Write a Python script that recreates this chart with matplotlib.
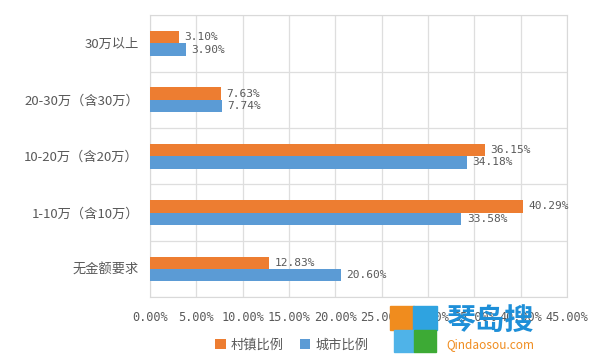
import matplotlib
matplotlib.use("Agg")
import matplotlib.pyplot as plt
import numpy as np
from matplotlib.patches import Rectangle

plt.rcParams['font.family'] = ['Noto Sans CJK SC', 'DejaVu Sans']

categories = ["30万以上", "20-30万（含30万）", "10-20万（含20万）", "1-10万（含10万）", "无金额要求"]
village = [3.10, 7.63, 36.15, 40.29, 12.83]
city = [3.90, 7.74, 34.18, 33.58, 20.60]
series_names = ["村镇比例", "城市比例"]
xticks = [0, 5, 10, 15, 20, 25, 30, 35, 40, 45]

c_orange = "#ED7D31"
c_blue = "#5B9BD5"
c_text = "#595959"

fig = plt.figure(figsize=(6, 3.61), dpi=100)
ax = fig.add_axes([0.25, 0.177, 0.695, 0.781])

n = len(categories)
y = np.arange(n)
h = 0.22
ax.barh(y - h/2, village, height=h, color=c_orange, label=series_names[0], zorder=3)
ax.barh(y + h/2, city, height=h, color=c_blue, label=series_names[1], zorder=3)

for i in range(n):
    ax.text(village[i] + 0.6, y[i] - h/2, f"{village[i]:.2f}%", va='center', ha='left',
            fontsize=8, color=c_text, family='DejaVu Sans Mono', zorder=4)
    ax.text(city[i] + 0.6, y[i] + h/2, f"{city[i]:.2f}%", va='center', ha='left',
            fontsize=8, color=c_text, family='DejaVu Sans Mono', zorder=4)

ax.set_xlim(0, 45)
ax.set_ylim(n - 0.5, -0.5)
ax.set_xticks(xticks)
ax.set_xticklabels([f"{v:.2f}%" for v in xticks], family='DejaVu Sans Mono', fontsize=8.6, color=c_text)
ax.set_yticks(y)
ax.set_yticklabels(categories, fontsize=9.5, color=c_text)
ax.set_yticks(np.arange(n + 1) - 0.5, minor=True)
ax.grid(True, axis='x', color='#DEDEDE', lw=0.9, zorder=0)
ax.grid(True, axis='y', which='minor', color='#DEDEDE', lw=0.9, zorder=0)
ax.tick_params(axis='both', which='both', length=0)
ax.tick_params(axis='y', pad=8)
ax.tick_params(axis='x', pad=10)
for s in ax.spines.values():
    s.set_color('#D9D9D9')

ax.legend(loc='center', bbox_to_anchor=(0.34, -0.17), ncol=2, frameon=False,
          fontsize=9.5, handlelength=0.8, handleheight=0.8, columnspacing=1.2, handletextpad=0.4,
          labelcolor=c_text)

# watermark
fig.patches.append(Rectangle((390/600, 1 - 330/361), 24/600, 24/361, transform=fig.transFigure, color='#F08C1E', zorder=10))
fig.patches.append(Rectangle((413/600, 1 - 330/361), 24/600, 24/361, transform=fig.transFigure, color='#2FA3E0', zorder=10))
fig.patches.append(Rectangle((394/600, 1 - 352/361), 20/600, 22/361, transform=fig.transFigure, color='#4FB3E8', zorder=10))
fig.patches.append(Rectangle((414/600, 1 - 352/361), 22/600, 22/361, transform=fig.transFigure, color='#3DAA35', zorder=10))
fig.text(446/600, 1 - 320/361, "琴岛搜", fontsize=21, color='#1E8FD8', va='center', ha='left', weight='bold', zorder=11)
fig.text(446/600, 1 - 345/361, "Qindaosou.com", fontsize=8.5, color='#F08C1E', va='center', ha='left', zorder=11)

fig.savefig("out.png", dpi=100)
